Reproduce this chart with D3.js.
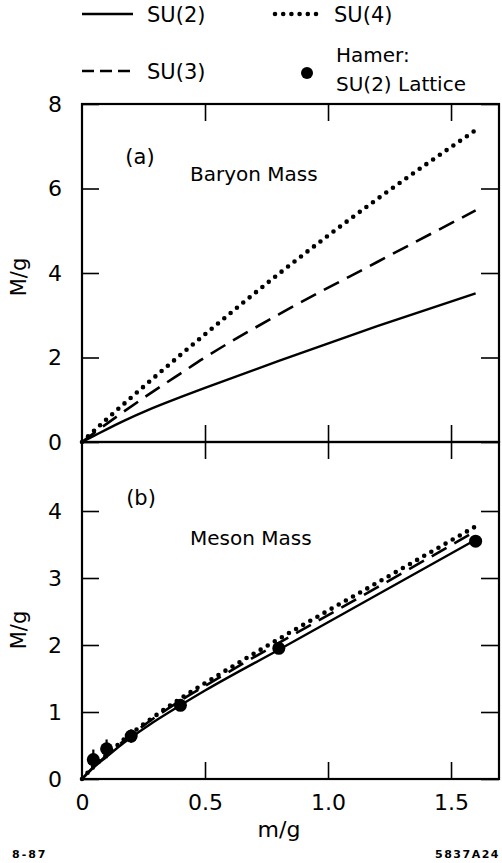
<!DOCTYPE html>
<html>
<head>
<meta charset="UTF-8">
<script src="https://cdn.jsdelivr.net/npm/d3@7"></script>
<style>
  html, body { margin: 0; padding: 0; background: #fff; }
  svg text { font-family: "DejaVu Sans", sans-serif; fill: #000; }
</style>
</head>
<body>
<div id="chart"></div>
<script>
// m/g grid for the curves
const mg = [0, 0.05, 0.1, 0.17, 0.27, 0.4, 0.5, 0.8, 1.2, 1.6]

// (a) baryon mass
const baryonSU2 = [0, 0.15, 0.3, 0.5, 0.76, 1.06, 1.28, 1.92, 2.74, 3.52]
const baryonSU3 = [0, 0.22, 0.43, 0.72, 1.12, 1.62, 2.0, 3.02, 4.26, 5.48]
const baryonSU4 = [0, 0.27, 0.54, 0.9, 1.41, 2.06, 2.55, 3.98, 5.75, 7.38]

// (b) meson mass
const mesonSU2 = [0, 0.18, 0.33, 0.54, 0.8, 1.1, 1.32, 1.93, 2.75, 3.57]
const mesonSU3 = [0, 0.19, 0.35, 0.57, 0.85, 1.17, 1.39, 2.03, 2.86, 3.7]
const mesonSU4 = [0, 0.2, 0.36, 0.59, 0.87, 1.2, 1.43, 2.09, 2.93, 3.77]

// Hamer SU(2) lattice points
const hamerM = [0.046, 0.1, 0.2, 0.4, 0.8, 1.6]
const hamerV = [0.29, 0.45, 0.64, 1.1, 1.95, 3.55]
const hamerErr = [0.15, 0.14, 0.1, 0.05, 0, 0]

const xTicks = [0, 0.5, 1.0, 1.5]
const xTickLabels = ['0', '0.5', '1.0', '1.5']
const aTicks = [0, 2, 4, 6, 8]
const bTicks = [0, 1, 2, 3, 4]

const W = 502, H = 863
const left = 82, right = 499
const svg = d3.select('#chart').append('svg').attr('width', W).attr('height', H)

const x = d3.scaleLinear().domain([0, 1.695]).range([left, right])
const ya = d3.scaleLinear().domain([0, 8]).range([442, 104])
const yb = d3.scaleLinear().domain([0, 5.03]).range([779, 442])

const styles = {
  su2: { dash: null, width: 2.4, cap: 'butt' },
  su3: { dash: '17 9', width: 2.6, cap: 'butt' },
  su4: { dash: '0 8.2', width: 4.6, cap: 'round' }
}

function drawCurve(y, vals, st) {
  const line = d3.line().curve(d3.curveMonotoneX).x((d, i) => x(mg[i])).y(d => y(d))
  svg.append('path').datum(vals).attr('d', line)
    .attr('fill', 'none').attr('stroke', '#000')
    .attr('stroke-width', st.width).attr('stroke-linecap', st.cap)
    .attr('stroke-dasharray', st.dash)
}

function drawPanel(y, ticks, top) {
  // frame
  svg.append('rect').attr('x', left).attr('y', top).attr('width', right - left)
    .attr('height', y(0) - top).attr('fill', 'none').attr('stroke', '#000').attr('stroke-width', 2.2)
  // left axis
  const gl = svg.append('g').attr('transform', `translate(${left},0)`)
    .call(d3.axisLeft(y).tickValues(ticks).tickSize(-17).tickSizeOuter(0).tickPadding(20).tickFormat(d => d))
  gl.select('.domain').remove()
  gl.selectAll('line').attr('stroke-width', 1.6)
  gl.selectAll('text').attr('font-size', 22).attr('text-anchor', 'middle').attr('x', -27)
  // right ticks
  const gr = svg.append('g').attr('transform', `translate(${right},0)`)
    .call(d3.axisRight(y).tickValues(ticks).tickSize(-18).tickSizeOuter(0).tickFormat(''))
  gr.select('.domain').remove()
  gr.selectAll('line').attr('stroke-width', 1.6)
  // bottom ticks (up)
  const gb = svg.append('g').attr('transform', `translate(0,${y(0)})`)
    .call(d3.axisBottom(x).tickValues(xTicks.slice(1)).tickSize(-17).tickSizeOuter(0).tickFormat(''))
  gb.select('.domain').remove()
  gb.selectAll('line').attr('stroke-width', 1.6)
  // top ticks (down)
  const gt = svg.append('g').attr('transform', `translate(0,${top})`)
    .call(d3.axisTop(x).tickValues(xTicks.slice(1)).tickSize(-17).tickSizeOuter(0).tickFormat(''))
  gt.select('.domain').remove()
  gt.selectAll('line').attr('stroke-width', 1.6)
}

drawPanel(ya, aTicks, 104)
drawPanel(yb, bTicks, 442)

// x tick labels
const gx = svg.append('g').attr('transform', `translate(0,779)`)
  .call(d3.axisBottom(x).tickValues(xTicks).tickSize(0).tickPadding(15).tickFormat((d, i) => xTickLabels[i]))
gx.select('.domain').remove()
gx.selectAll('text').attr('font-size', 22)

drawCurve(ya, baryonSU2, styles.su2)
drawCurve(ya, baryonSU3, styles.su3)
drawCurve(ya, baryonSU4, styles.su4)
drawCurve(yb, mesonSU2, styles.su2)
drawCurve(yb, mesonSU3, styles.su3)
drawCurve(yb, mesonSU4, styles.su4)

// Hamer points with error bars
const pts = svg.append('g')
pts.selectAll('line').data(hamerM).enter().append('line')
  .attr('x1', d => x(d)).attr('x2', d => x(d))
  .attr('y1', (d, i) => yb(hamerV[i] + hamerErr[i]))
  .attr('y2', (d, i) => yb(hamerV[i] - hamerErr[i]))
  .attr('stroke', '#000').attr('stroke-width', 2.2)
pts.selectAll('circle').data(hamerM).enter().append('circle')
  .attr('cx', d => x(d)).attr('cy', (d, i) => yb(hamerV[i])).attr('r', 6.5).attr('fill', '#000')

// panel labels
svg.append('text').attr('x', 140).attr('y', 164).attr('font-size', 21).attr('text-anchor', 'middle').text('(a)')
svg.append('text').attr('x', 190).attr('y', 181).attr('font-size', 20).text('Baryon Mass')
svg.append('text').attr('x', 141).attr('y', 505).attr('font-size', 21).attr('text-anchor', 'middle').text('(b)')
svg.append('text').attr('x', 190).attr('y', 545).attr('font-size', 20).text('Meson Mass')

// axis titles
svg.append('text').attr('transform', 'translate(26,277) rotate(-90)').attr('font-size', 21)
  .attr('text-anchor', 'middle').text('M/g')
svg.append('text').attr('transform', 'translate(26,630) rotate(-90)').attr('font-size', 21)
  .attr('text-anchor', 'middle').text('M/g')
svg.append('text').attr('x', 279).attr('y', 837).attr('font-size', 22).attr('text-anchor', 'middle').text('m/g')

// legend
const leg = svg.append('g')
function legLine(x1, x2, yy, st) {
  leg.append('line').attr('x1', x1).attr('x2', x2).attr('y1', yy).attr('y2', yy)
    .attr('stroke', '#000').attr('stroke-width', st.width).attr('stroke-linecap', st.cap)
    .attr('stroke-dasharray', st.dash)
}
legLine(82, 133, 14, styles.su2)
legLine(275, 318, 14, styles.su4)
legLine(82, 133, 71, { dash: '12 6', width: 2.6, cap: 'butt' })
leg.append('circle').attr('cx', 307).attr('cy', 73).attr('r', 6).attr('fill', '#000')
leg.append('text').attr('x', 147).attr('y', 22).attr('font-size', 21).text('SU(2)')
leg.append('text').attr('x', 334).attr('y', 22).attr('font-size', 21).text('SU(4)')
leg.append('text').attr('x', 147).attr('y', 79).attr('font-size', 21).text('SU(3)')
leg.append('text').attr('x', 336).attr('y', 62).attr('font-size', 20).text('Hamer:')
leg.append('text').attr('x', 336).attr('y', 91).attr('font-size', 20).text('SU(2) Lattice')

// corner codes
svg.append('text').attr('x', 12).attr('y', 858).attr('font-size', 11).attr('font-weight', 'bold')
  .attr('letter-spacing', 2).text('8-87')
svg.append('text').attr('x', 500).attr('y', 858).attr('font-size', 11).attr('font-weight', 'bold')
  .attr('text-anchor', 'end').attr('letter-spacing', 1.5).text('5837A24')
</script>
</body>
</html>
